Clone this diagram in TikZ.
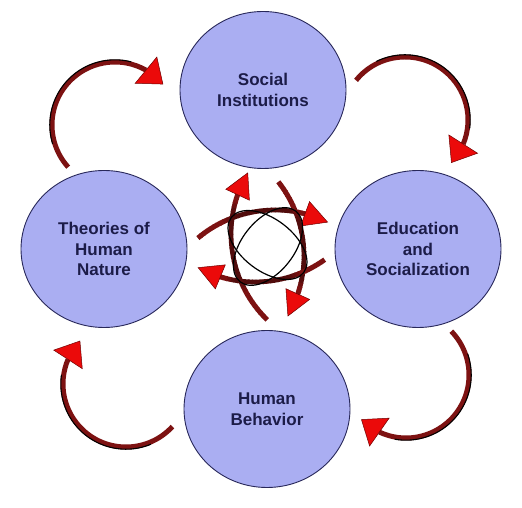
\documentclass[tikz,border=0pt]{standalone}
\usepackage{fontspec}
\setmainfont{Liberation Sans}
\usetikzlibrary{shapes.geometric,calc}
\definecolor{circfill}{RGB}{170,174,242}
\definecolor{circdraw}{RGB}{40,40,90}
\definecolor{txtcol}{RGB}{28,28,72}
\definecolor{arcred}{RGB}{125,18,18}
\definecolor{headred}{RGB}{235,10,10}
\definecolor{headedge}{RGB}{110,0,0}
\tikzset{
  bubble/.style={ellipse, minimum width=166pt, minimum height=157pt, inner sep=0pt,
    fill=circfill, draw=circdraw, line width=0.9pt, align=center, text=txtcol,
    font=\fontsize{17}{20.5}\selectfont\bfseries},
  arcline/.style={draw=arcred, line width=5pt},
  arcedge/.style={draw=black, line width=1.1pt},
  headtri/.style={fill=headred, draw=headedge, line width=0.5pt, line join=miter},
  knot/.style={draw=black, line width=1.2pt}
}
% outer arrow: #1 centre, #2 radius (pt), #3 start angle, #4 tip angle, #5 head length (deg), #6 head half width
\newcommand{\cyclearrow}[6]{%
  \pgfmathsetmacro\bang{#4+#5}%
  \pgfmathsetmacro\redge{#2+2.2}%
  \pgfmathsetmacro\eA{#3-25}%
  \pgfmathsetmacro\eB{\bang+15}%
  \draw[arcline] ($(#1)+(#3:#2pt)$) arc[start angle=#3, end angle=\bang, radius=#2pt];
  \draw[arcedge] ($(#1)+(\eA:\redge pt)$) arc[start angle=\eA, end angle=\eB, radius=\redge pt];
  \coordinate (T) at ($(#1)+(#4:#2pt)$);
  \coordinate (M) at ($(#1)+(\bang:#2pt)$);
  \filldraw[headtri] (T) -- ($(M)!#6!90:(T)$) -- ($(M)!#6!-90:(T)$) -- cycle;
}
% inner arrow: #1 centre, #2 start angle, #3 tip angle ; radius 120pt, slightly darker middle
\newcommand{\innerarrow}[3]{%
  \pgfmathsetmacro\bang{#3+11.5}%
  \foreach \i in {0,...,29} {
    \pgfmathsetmacro\ta{#2+(\bang-#2)*\i/30}
    \pgfmathsetmacro\tb{#2+(\bang-#2)*(\i+1.2)/30}
    \pgfmathsetmacro\tm{(\i+0.5)/30}
    \pgfmathsetmacro\bk{0.35*min(1,max(0,min((\tm-0.25)/0.12,(0.95-\tm)/0.08)))}
    \pgfmathsetmacro\wd{5-0.8*\bk}
    \pgfmathtruncatemacro\pc{100*\bk}
    \draw[line width=\wd pt, draw=black!\pc!arcred] ($(#1)+(\ta:120pt)$) arc[start angle=\ta, end angle=\tb, radius=120pt];
  }
  \coordinate (T) at ($(#1)+(#3:120pt)$);
  \coordinate (M) at ($(#1)+(\bang:120pt)$);
  \filldraw[headtri] (T) -- ($(M)!13pt!90:(T)$) -- ($(M)!13pt!-90:(T)$) -- cycle;
}
\begin{document}
\begin{tikzpicture}[x=1pt,y=1pt]
\useasboundingbox (0,0) rectangle (522,508);
\fill[white] (0,0) rectangle (522,508);
% main circles
\node[bubble] (si) at (263,418) {Social\\Institutions};
\node[bubble] (th) at (104,259) {Theories of\\Human\\Nature};
\node[bubble] (ed) at (418,259) {Education\\and\\Socialization};
\node[bubble] (hb) at (267,99) {Human\\Behavior};
% outer cycle arrows
\coordinate (ctl) at (115,383);
\coordinate (ctr) at (405,388);
\coordinate (cbr) at (406,133);
\coordinate (cbl) at (126,124);
\cyclearrow{ctl}{63}{222}{40.5}{20}{17pt}
\cyclearrow{ctr}{63}{141}{-42.5}{20}{17pt}
\cyclearrow{cbr}{63}{44}{-135}{20}{17pt}
\cyclearrow{cbl}{63}{-42.5}{-223}{20}{17pt}
% central symbol
\coordinate (c1) at (275,178);
\coordinate (c2) at (184,252);
\coordinate (c3) at (255,346);
\coordinate (c4) at (351,274);
\innerarrow{c1}{130}{64}
\innerarrow{c2}{38.2}{-30}
\innerarrow{c3}{-54.5}{-118.3}
\innerarrow{c4}{225.7}{149.4}
\coordinate (oa) at (268,261.5);
\coordinate (ob) at (267.5,263);
\draw[knot, rotate around={51.7:(oa)}] (oa) ellipse[x radius=45pt, y radius=26pt];
\draw[knot, rotate around={-37.3:(ob)}] (ob) ellipse[x radius=45.5pt, y radius=26pt];
\end{tikzpicture}
\end{document}
